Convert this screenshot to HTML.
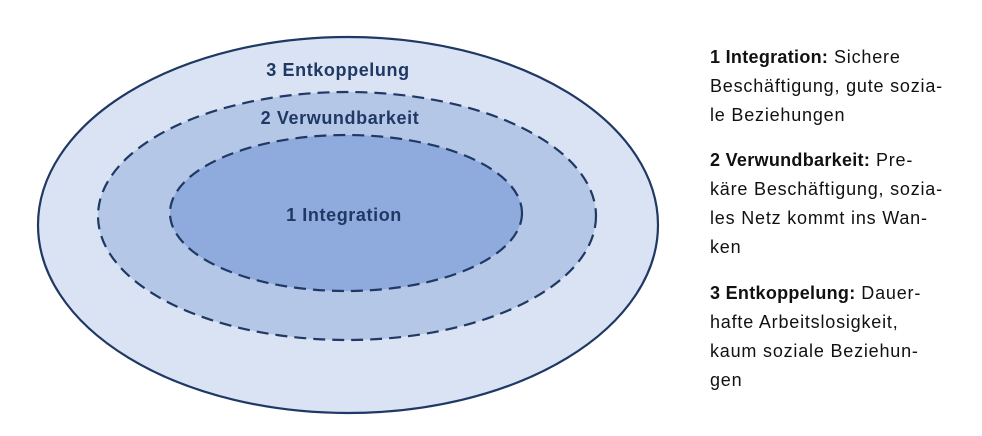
<!DOCTYPE html>
<html><head><meta charset="utf-8"><style>
body{margin:0;width:982px;height:436px;background:#fff;overflow:hidden;position:relative;font-family:"Liberation Sans",sans-serif}
.t{position:absolute;left:710px;font-size:18px;letter-spacing:0.8px;line-height:29px;color:#111;white-space:nowrap}
.t b{font-weight:bold;letter-spacing:0.3px}
</style></head><body>
<svg width="982" height="436" style="position:absolute;left:0;top:0">
<ellipse cx="348" cy="225" rx="310" ry="188" fill="#dae3f3" stroke="#1f3864" stroke-width="2.2"/>
<ellipse cx="347" cy="216" rx="249" ry="124" fill="#b4c7e7" stroke="#1f3864" stroke-width="2.2" stroke-dasharray="12,7"/>
<ellipse cx="346" cy="213" rx="176" ry="78" fill="#8faadc" stroke="#1f3864" stroke-width="2.2" stroke-dasharray="12,7"/>
<g font-family="Liberation Sans, sans-serif" font-weight="bold" font-size="18" letter-spacing="0.6" fill="#1f3864" text-anchor="middle">
<text x="338" y="76">3 Entkoppelung</text>
<text x="340" y="124">2 Verwundbarkeit</text>
<text x="344" y="221">1 Integration</text>
</g>
</svg>
<div class="t" style="top:43px"><b>1 Integration:</b> Sichere<br>Beschäftigung, gute sozia-<br>le Beziehungen</div>
<div class="t" style="top:146px"><b>2 Verwundbarkeit:</b> Pre-<br>käre Beschäftigung, sozia-<br>les Netz kommt ins Wan-<br>ken</div>
<div class="t" style="top:279px"><b>3 Entkoppelung:</b> Dauer-<br>hafte Arbeitslosigkeit,<br>kaum soziale Beziehun-<br>gen</div>
</body></html>
